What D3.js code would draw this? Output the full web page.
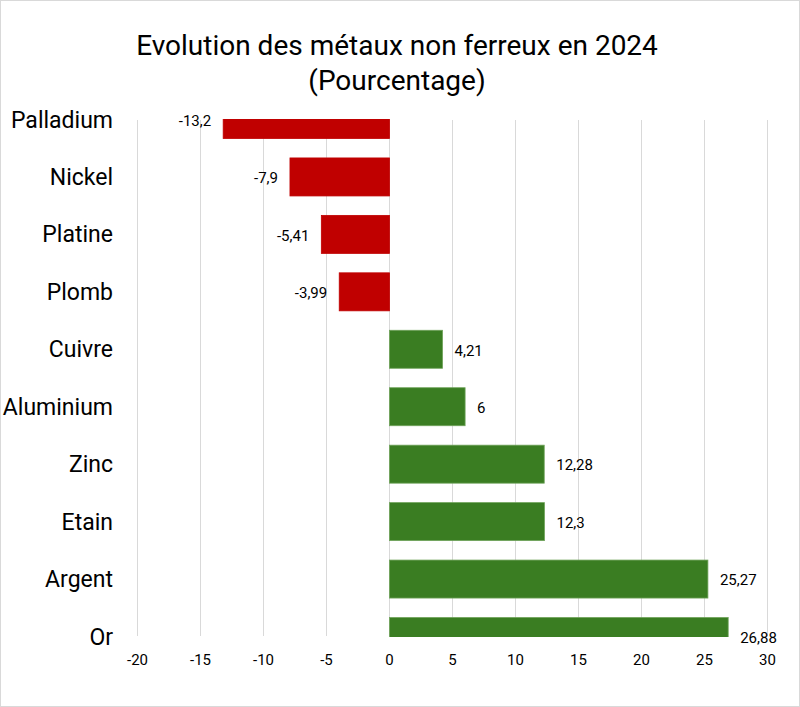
<!DOCTYPE html>
<html>
<head>
<meta charset="utf-8">
<script src="https://cdn.jsdelivr.net/npm/d3@7"></script>
<style>
  body { margin: 0; background: #fff; }
  svg { display: block; font-family: Roboto, "Noto Sans", sans-serif; }
</style>
</head>
<body>
<svg id="chart" width="800" height="707"></svg>
<script>
var CATEGORIES = ['Palladium', 'Nickel', 'Platine', 'Plomb', 'Cuivre', 'Aluminium', 'Zinc', 'Etain', 'Argent', 'Or'];
var VALUES = [-13.2, -7.9, -5.41, -3.99, 4.21, 6, 12.28, 12.3, 25.27, 26.88];
var LABELS = ['-13,2', '-7,9', '-5,41', '-3,99', '4,21', '6', '12,28', '12,3', '25,27', '26,88'];
var TICKS = [-20, -15, -10, -5, 0, 5, 10, 15, 20, 25, 30];

var svg = d3.select('#chart');
var W = 800, H = 707;

// chart area border
svg.append('rect')
    .attr('x', 0.5).attr('y', 0.5)
    .attr('width', W - 1).attr('height', H - 1)
    .attr('fill', '#fff').attr('stroke', '#d9d9d9');

// ----- title ---------------------------------------------------------------
var title = svg.append('text')
    .attr('x', 397).attr('y', 55)
    .attr('text-anchor', 'middle')
    .attr('font-size', 28)
    .attr('fill', '#000');
title.append('tspan').attr('x', 397).text('Evolution des métaux non ferreux en 2024');
title.append('tspan').attr('x', 397).attr('dy', 35).text('(Pourcentage)');

// ----- scales --------------------------------------------------------------
var plot = { left: 137.5, right: 767.5, top: 119, bottom: 637 };

var x = d3.scaleLinear().domain([-20, 30]).range([plot.left, plot.right]);
var y = d3.scalePoint().domain(CATEGORIES).range([plot.top + 0.5, plot.bottom - 0.5]);
var barH = 38;

svg.append('clipPath').attr('id', 'plot-clip')
  .append('rect')
    .attr('x', plot.left - 1).attr('y', plot.top)
    .attr('width', plot.right - plot.left + 2).attr('height', plot.bottom - plot.top);

// gridlines
svg.append('g').selectAll('line')
    .data(TICKS)
  .enter().append('line')
    .attr('x1', (d) => x(d)).attr('x2', (d) => x(d))
    .attr('y1', plot.top + 1).attr('y2', plot.bottom - 1)
    .attr('stroke', '#d9d9d9').attr('stroke-width', 1);

// bars
svg.append('g').attr('clip-path', 'url(#plot-clip)')
    .selectAll('rect')
    .data(VALUES)
  .enter().append('rect')
    .attr('x', (d) => x(Math.min(0, d)))
    .attr('width', (d) => Math.abs(x(d) - x(0)))
    .attr('y', (d, i) => y(CATEGORIES[i]) - barH / 2)
    .attr('height', barH)
    .attr('fill', (d) => d < 0 ? '#c00000' : '#3a7d22')
    .attr('stroke', (d) => d < 0 ? '#c00000' : '#6fa35a')
    .attr('stroke-width', 0.8);

// value labels
svg.append('g').selectAll('text')
    .data(VALUES)
  .enter().append('text')
    .attr('x', (d) => d < 0 ? x(d) - 12 : x(d) + 12)
    .attr('y', (d, i) => y(CATEGORIES[i]) + 1)
    .attr('dy', '0.35em')
    .attr('text-anchor', (d) => d < 0 ? 'end' : 'start')
    .attr('font-size', 15)
    .attr('fill', '#000')
    .text((d, i) => LABELS[i]);

// category labels
svg.append('g').selectAll('text')
    .data(CATEGORIES)
  .enter().append('text')
    .attr('x', 113)
    .attr('y', (d) => y(d))
    .attr('dy', '0.35em')
    .attr('text-anchor', 'end')
    .attr('font-size', 23)
    .attr('fill', '#000')
    .text((d) => d);

// x tick labels
svg.append('g').selectAll('text')
    .data(TICKS)
  .enter().append('text')
    .attr('x', (d) => x(d))
    .attr('y', 660)
    .attr('dy', '0.35em')
    .attr('text-anchor', 'middle')
    .attr('font-size', 15)
    .attr('fill', '#000')
    .text((d) => d);
</script>
</body>
</html>
